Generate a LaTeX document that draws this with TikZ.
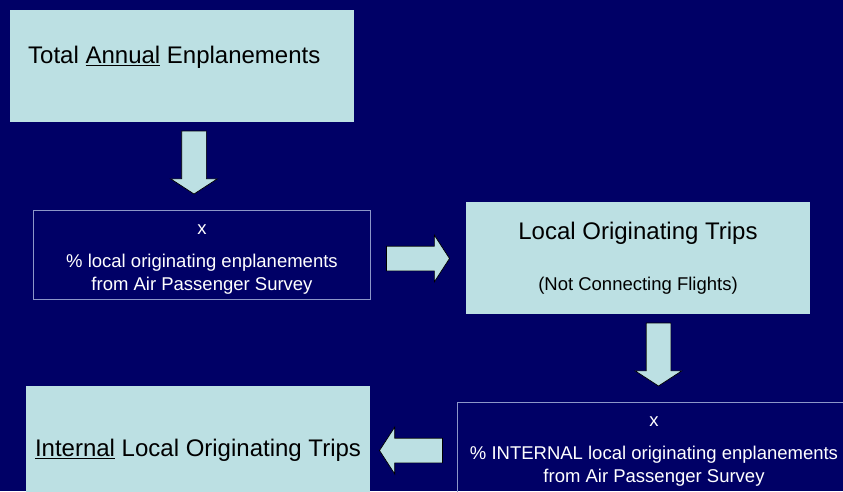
\documentclass[tikz,border=0pt]{standalone}
\usepackage{fontspec}
\setmainfont{Liberation Sans}
\usetikzlibrary{shapes.arrows,positioning}
\usepackage{color}
\definecolor{navy}{RGB}{0,0,102}
\definecolor{paleblue}{RGB}{188,224,227}
\definecolor{rimblue}{RGB}{140,150,200}
% underline with a thicker rule
\newcommand{\uword}[1]{\setbox0\hbox{#1}\rlap{\rule[-3pt]{\wd0}{1.3pt}}\box0\relax}

\begin{document}
\begin{tikzpicture}
  [x=1pt,y=-1pt]
      \tikzstyle{full_box} = [rectangle, fill=paleblue, inner sep=0, anchor=north west]
      \tikzstyle{thin_box} = [rectangle, draw=rimblue, line width=0.8pt, inner sep=0, anchor=north west]
      \tikzstyle{fat_arrow} = [single arrow, draw=black, fill=paleblue, line width=0.7pt,
                               inner xsep=0, inner ysep=12pt, minimum height=63pt,
                               single arrow head extend=11pt, single arrow tip angle=114]
      \tikzstyle{down_arrow} = [fat_arrow, inner xsep=12pt, inner ysep=0, shape border rotate=270]
      \tikzstyle{big_text} = [font=\fontsize{24}{28}\selectfont, text=black, inner sep=0]
      \tikzstyle{small_text} = [font=\fontsize{18.5}{23}\selectfont, inner sep=0, align=center]
  \fill[navy] (0,0) rectangle (843,491);
  \useasboundingbox (0,0) rectangle (843,491);
  \clip (0,0) rectangle (843,491);
  % boxes
  \node[full_box, minimum width=344pt, minimum height=112pt] (annual) at (10,10) {};
  \node[thin_box, minimum width=337pt, minimum height=89pt] (localpct) at (33,210) {};
  \node[full_box, minimum width=344pt, minimum height=112pt] (localtrips) at (466,202) {};
  \node[thin_box, minimum width=394pt, minimum height=100pt] (internalpct) at (457,402) {};
  \node[full_box, minimum width=344pt, minimum height=124pt] (internal) at (26,386) {};
  % texts (multi-line ones sit on their last baseline)
  \node[big_text, anchor=base west] (annual_lbl) at (28,63) {Total \uword{Annual} Enplanements};
  \node[small_text, text=white, anchor=base] (localpct_lbl) at (202,290)
      {x\\[10pt] \% local originating enplanements\\ from Air Passenger Survey};
  \node[big_text, anchor=base] (localtrips_lbl) at (638,239) {Local Originating Trips};
  \node[small_text, text=black, anchor=base] (connect_lbl) at (638,290) {(Not Connecting Flights)};
  \node[small_text, text=white, anchor=base] (internalpct_lbl) at (654,482)
      {x\\[10pt] \% INTERNAL local originating enplanements\\ from Air Passenger Survey};
  \node[big_text, anchor=base] (internal_lbl) at (198,456) {\uword{Internal} Local Originating Trips};
  % block arrows
  \node[down_arrow] (a1) at (194,158.5) {};
  \node[fat_arrow] (a2) at (414,258.5) {};
  \node[down_arrow] (a3) at (658.5,350.5) {};
  \node[fat_arrow, shape border rotate=180] (a4) at (415,450.5) {};
\end{tikzpicture}
\end{document}
